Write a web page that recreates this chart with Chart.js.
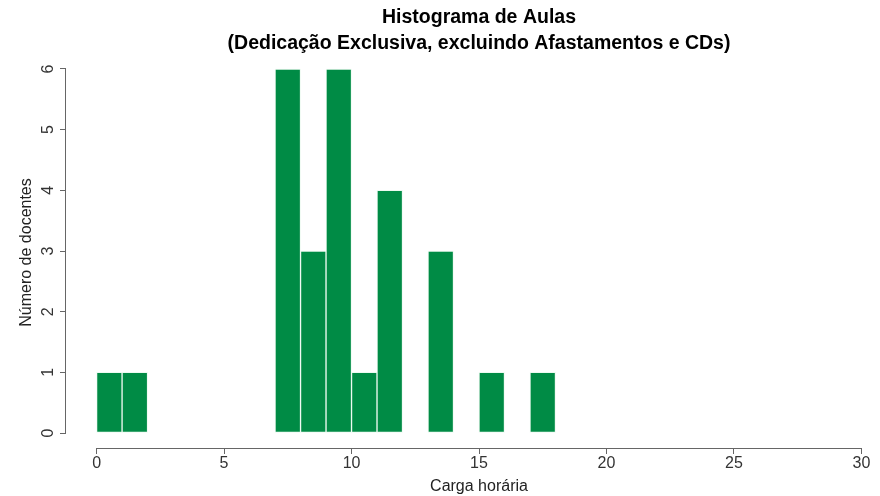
<!DOCTYPE html>
<html>
<head>
<meta charset="utf-8">
<script src="https://cdn.jsdelivr.net/npm/chart.js@4.4.1/dist/chart.umd.min.js"></script>
<style>
  html, body { margin: 0; padding: 0; background: #fff; overflow: hidden; }
  /* the R plot region runs a bit past the right edge of the picture, so the canvas is clipped */
  #wrap { width: 880px; height: 496px; overflow: hidden; }
</style>
</head>
<body>
<div id="wrap"><canvas id="hist" width="892" height="496"></canvas></div>
<script>
// histogram bins (width 1) and counts
const binStarts = [0, 1, 7, 8, 9, 10, 11, 13, 15, 17];
const binCounts = [1, 1, 6, 3, 6, 1, 4, 3, 1, 1];
const xTicks = [0, 5, 10, 15, 20, 25, 30];
const yTicks = [0, 1, 2, 3, 4, 5, 6];
const titleLines = ['Histograma de Aulas', '(Dedicação Exclusiva, excluindo Afastamentos e CDs)'];

const fontSans = "'Liberation Sans', Arial, sans-serif";
const axisGray = '#666';

// R draws the axis line only between the first and last tick
const rAxes = {
  id: 'rAxes',
  afterDatasetsDraw(chart) {
    const ctx = chart.ctx, x = chart.scales.x, y = chart.scales.y;
    ctx.save();
    ctx.strokeStyle = axisGray;
    ctx.lineWidth = 1;
    ctx.beginPath();
    const by = Math.round(x.top) + 0.5;
    ctx.moveTo(x.getPixelForValue(xTicks[0]), by);
    ctx.lineTo(x.getPixelForValue(xTicks[xTicks.length - 1]), by);
    const lx = Math.round(y.right) - 0.5;
    ctx.moveTo(lx, y.getPixelForValue(yTicks[0]));
    ctx.lineTo(lx, y.getPixelForValue(yTicks[yTicks.length - 1]));
    ctx.stroke();
    ctx.restore();
  }
};

new Chart(document.getElementById('hist'), {
  type: 'bar',
  data: {
    datasets: [{
      data: binStarts.map((s, i) => ({ x: s + 0.5, y: binCounts[i] })),
      backgroundColor: '#008B45',
      borderColor: 'rgba(235,250,240,0.9)',
      borderWidth: 1,
      borderSkipped: false,
      barPercentage: 1,
      categoryPercentage: 1,
    }]
  },
  options: {
    responsive: false,
    animation: false,
    layout: { padding: 0 },
    plugins: {
      legend: { display: false },
      tooltip: { enabled: false },
      title: {
        display: true,
        fullSize: false,
        text: titleLines,
        color: '#000',
        font: { family: fontSans, size: 19.5, weight: 'bold', lineHeight: 1.333 },
        padding: { top: 5, bottom: 0 }
      }
    },
    scales: {
      x: {
        type: 'linear',
        min: -1.2, max: 31.2,
        offset: false,
        afterBuildTicks: s => { s.ticks = xTicks.map(v => ({ value: v })); },
        afterFit: s => { s.height = 48; },
        grid: { offset: false, drawOnChartArea: false, drawTicks: true, tickLength: 6, tickColor: axisGray },
        border: { display: false },
        ticks: { color: '#333', font: { family: fontSans, size: 16 }, padding: 0, maxRotation: 0, autoSkip: false },
        title: { display: true, text: 'Carga horária', color: '#222', font: { family: fontSans, size: 16 }, padding: { top: 0, bottom: 0 } }
      },
      y: {
        min: -0.247, max: 6.198,
        afterBuildTicks: s => { s.ticks = yTicks.map(v => ({ value: v })); },
        afterFit: s => { s.width = 66; },
        grid: { drawOnChartArea: false, drawTicks: true, tickLength: 6, tickColor: axisGray },
        border: { display: false },
        ticks: { color: '#333', font: { family: fontSans, size: 16 }, padding: 7, minRotation: 90, maxRotation: 90, crossAlign: 'center', autoSkip: false },
        title: { display: true, text: 'Número de docentes', color: '#222', font: { family: fontSans, size: 16 }, padding: { top: 17, bottom: 0 } }
      }
    }
  },
  plugins: [rAxes]
});
</script>
</body>
</html>
